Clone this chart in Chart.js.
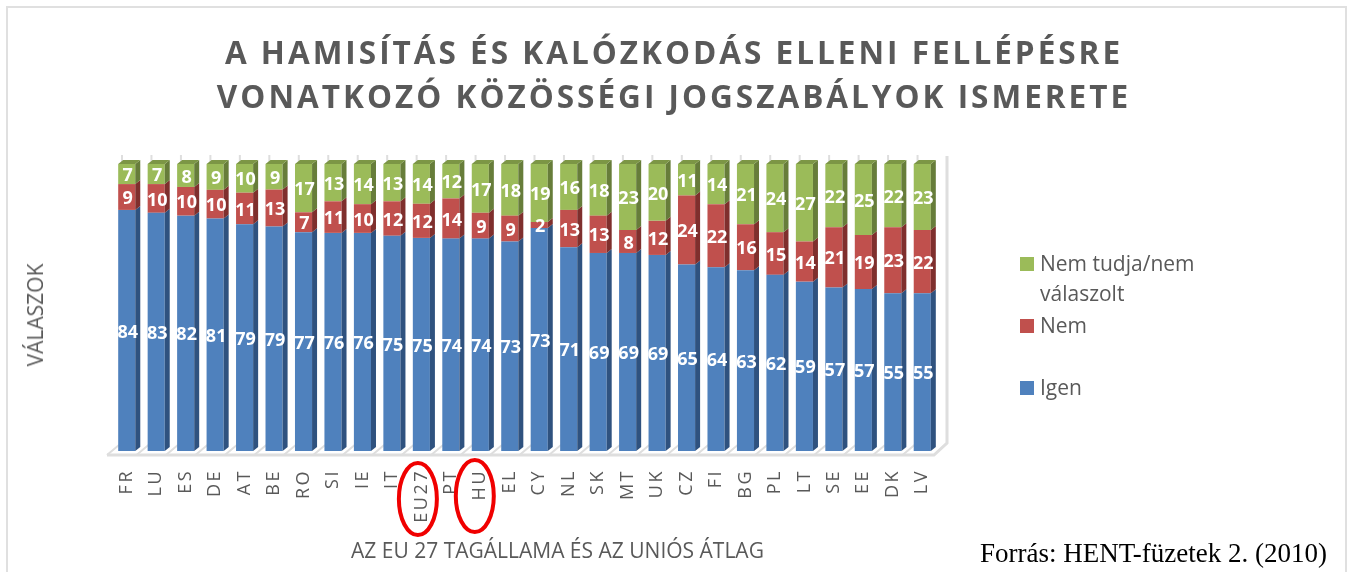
<!DOCTYPE html>
<html lang="hu">
<head>
<meta charset="utf-8">
<title>Közösségi jogszabályok ismerete</title>
<script src="https://cdn.jsdelivr.net/npm/chart.js@4"></script>
<style>
  html, body { margin: 0; padding: 0; background: #fff; }
  body { width: 1352px; height: 572px; position: relative; overflow: hidden; font-family: "Open Sans", sans-serif; color: #595959; }
  #frame { position: absolute; left: 6px; top: 6px; width: 1337px; height: 580px; border: 2px solid #e0e0e0; }
  #chart { position: absolute; left: 0; top: 0; }
  .txt { position: absolute; white-space: nowrap; }
  #title { left: 0; top: 30px; width: 1348px; text-align: center; font-weight: 700; font-size: 31.5px; line-height: 44px; letter-spacing: 3px; }
  #xTitle { left: 351px; top: 536px; font-size: 21px; line-height: 28px; }
  #yTitle { left: 35px; top: 315px; font-size: 21px; line-height: 24px; transform: translate(-50%, -50%) rotate(-90deg); }
  #source { left: 980px; top: 538px; font-family: "Liberation Serif", serif; font-size: 27px; line-height: 30px; color: #000; }
  .key { position: absolute; left: 1020px; width: 14px; height: 14px; }
  .keyText { position: absolute; left: 1040px; font-size: 21px; line-height: 30px; white-space: nowrap; }
</style>
</head>
<body>
<div id="frame"></div>
<canvas id="chart" width="1352" height="572"></canvas>
<div class="txt" id="title">A HAMISÍTÁS ÉS KALÓZKODÁS ELLENI FELLÉPÉSRE<br>VONATKOZÓ KÖZÖSSÉGI JOGSZABÁLYOK ISMERETE</div>
<div class="txt" id="xTitle">AZ EU 27 TAGÁLLAMA ÉS AZ UNIÓS ÁTLAG</div>
<div class="txt" id="yTitle">VÁLASZOK</div>
<div class="txt" id="source">Forrás: HENT-füzetek 2. (2010)</div>
<div class="key" style="top:257px;background:#9BBB59"></div>
<div class="keyText" style="top:248px">Nem tudja/nem<br>válaszolt</div>
<div class="key" style="top:319px;background:#C0504D"></div>
<div class="keyText" style="top:310px">Nem</div>
<div class="key" style="top:381px;background:#4F81BD"></div>
<div class="keyText" style="top:372px">Igen</div>
<script>
  const categories = ['FR','LU','ES','DE','AT','BE','RO','SI','IE','IT','EU27','PT','HU','EL','CY','NL','SK','MT','UK','CZ','FI','BG','PL','LT','SE','EE','DK','LV'];
  const igen = [84,83,82,81,79,79,77,76,76,75,75,74,74,73,73,71,69,69,69,65,64,63,62,59,57,57,55,55];
  const nem = [9,10,10,10,11,13,7,11,10,12,12,14,9,9,2,13,13,8,12,24,22,16,15,14,21,19,23,22];
  const nemTudja = [7,7,8,9,10,9,17,13,14,13,14,12,17,18,19,16,18,23,20,11,14,21,24,27,22,25,22,23];
  const circled = ['EU27', 'HU'];

  // the original is a 100% stacked column, so every column is scaled to its own total
  const share = (arr) => arr.map((v, i) => v / (igen[i] + nem[i] + nemTudja[i]) * 100);

  const DEPTH_X = 5, DEPTH_Y = 4;
  const sideColors = ['#2F527F', '#7F2F2D', '#677D3A'];
  const topColor = '#7C9645';
  const wallColor = '#dedede';

  const depthPlugin = {
    id: 'depth',
    beforeDraw(chart) {
      chart.ctx.letterSpacing = '2.5px';
    },
    beforeDatasetsDraw(chart) {
      const ctx = chart.ctx;
      const a = chart.chartArea;
      const step = (a.right - a.left) / categories.length;
      ctx.save();
      ctx.strokeStyle = wallColor;
      ctx.lineWidth = 3;
      ctx.beginPath();
      ctx.moveTo(a.left - 5, a.bottom + 4);
      ctx.lineTo(a.right - 3, a.bottom + 4);
      ctx.lineTo(a.right + 10, a.bottom - 8);
      ctx.lineTo(a.right + 10, a.top - 8);
      ctx.stroke();
      ctx.lineWidth = 2;
      ctx.beginPath();
      for (let i = 0; i < categories.length; i++) {
        const x = a.left + step * i;
        ctx.moveTo(x - 5, a.bottom + 4);
        ctx.lineTo(x + 7, a.bottom - 6);
        ctx.moveTo(x + 10, a.top - 9);
        ctx.lineTo(x + 10, a.top - 2);
      }
      ctx.stroke();
      ctx.restore();
    },
    afterDatasetsDraw(chart) {
      const ctx = chart.ctx;
      ctx.save();
      ctx.letterSpacing = '0px';
      chart.data.datasets.forEach((ds, d) => {
        chart.getDatasetMeta(d).data.forEach((bar) => {
          const r = bar.x + bar.width / 2;
          ctx.fillStyle = sideColors[d];
          ctx.beginPath();
          ctx.moveTo(r, bar.y);
          ctx.lineTo(r + DEPTH_X, bar.y - DEPTH_Y);
          ctx.lineTo(r + DEPTH_X, bar.base - DEPTH_Y);
          ctx.lineTo(r, bar.base);
          ctx.closePath();
          ctx.fill();
          if (d === chart.data.datasets.length - 1) {
            const l = bar.x - bar.width / 2;
            ctx.fillStyle = topColor;
            ctx.beginPath();
            ctx.moveTo(l, bar.y);
            ctx.lineTo(l + DEPTH_X, bar.y - DEPTH_Y);
            ctx.lineTo(r + DEPTH_X, bar.y - DEPTH_Y);
            ctx.lineTo(r, bar.y);
            ctx.closePath();
            ctx.fill();
          }
        });
      });
      // value labels show the raw percentages
      ctx.fillStyle = '#fff';
      ctx.font = '700 18px "Open Sans"';
      ctx.textAlign = 'center';
      ctx.textBaseline = 'middle';
      chart.data.datasets.forEach((ds, d) => {
        chart.getDatasetMeta(d).data.forEach((bar, i) => {
          ctx.fillText(ds.rawValues[i], bar.x + 1, (bar.y + bar.base) / 2 + 2);
        });
      });
      ctx.restore();
      ctx.letterSpacing = '0px';
    },
    afterDraw(chart) {
      const ctx = chart.ctx;
      const xs = chart.scales.x;
      ctx.save();
      ctx.strokeStyle = '#F00000';
      ctx.lineWidth = 4;
      circled.forEach((name) => {
        const x = xs.getPixelForValue(categories.indexOf(name));
        ctx.beginPath();
        ctx.ellipse(x - (name === 'HU' ? 5.5 : 3.5), name === 'HU' ? 496 : 499, 19, 36, 0, 0, Math.PI * 2);
        ctx.stroke();
      });
      ctx.restore();
    }
  };

  new Chart(document.getElementById('chart'), {
    type: 'bar',
    data: {
      labels: categories,
      datasets: [
        { label: 'Igen', data: share(igen), rawValues: igen, backgroundColor: '#4F81BD' },
        { label: 'Nem', data: share(nem), rawValues: nem, backgroundColor: '#C0504D' },
        { label: 'Nem tudja/nem válaszolt', data: share(nemTudja), rawValues: nemTudja, backgroundColor: '#9BBB59' }
      ]
    },
    options: {
      responsive: false,
      animation: false,
      barPercentage: 1,
      categoryPercentage: 0.58,
      layout: { padding: { left: 112, right: 415, top: 164, bottom: 0 } },
      plugins: { legend: { display: false }, title: { display: false }, tooltip: { enabled: false } },
      scales: {
        x: {
          stacked: true,
          afterFit(scale) { scale.height = 121; },
          grid: { display: false, drawTicks: false },
          border: { display: false },
          ticks: {
            color: '#595959',
            font: { family: 'Open Sans', size: 18 },
            padding: 18,
            minRotation: 90,
            maxRotation: 90,
            autoSkip: false
          }
        },
        y: {
          display: false,
          stacked: true,
          min: 0,
          max: 100
        }
      }
    },
    plugins: [depthPlugin]
  });
</script>
</body>
</html>
